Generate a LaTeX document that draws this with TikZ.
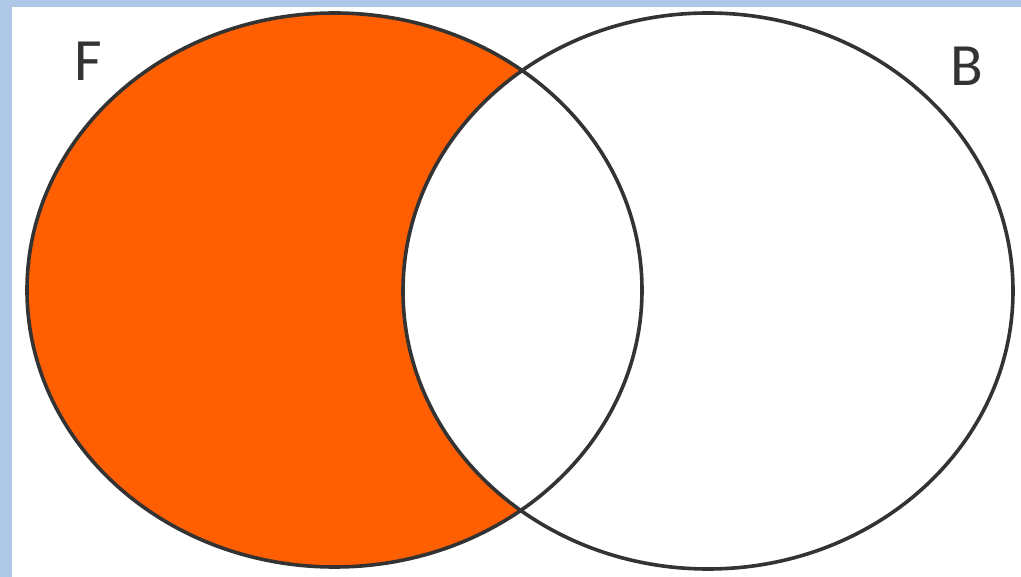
\documentclass[tikz,border=0pt]{standalone}
\usepackage{fontspec}
\setmainfont{Carlito}
\definecolor{frameblue}{HTML}{AFC7E6}
\definecolor{setorange}{HTML}{FF5F00}
\definecolor{setline}{HTML}{333333}
\tikzset{
  setoutline/.style={draw=setline, line width=3.6pt},
  setlabel/.style={font=\fontsize{60}{60}\selectfont, text=setline, inner sep=0pt}
}
\begin{document}
\begin{tikzpicture}[x=1pt,y=-1pt]
\useasboundingbox (0,0) rectangle (1021,577);
\fill[frameblue] (0,0) rectangle (1021,577);
\fill[white] (12,7) rectangle (1021,577);
\coordinate (cF) at (334.5,290);
\coordinate (cB) at (708,291);
\fill[setorange] (cF) ellipse [x radius=307.5, y radius=277];
\fill[white] (cB) ellipse [x radius=305, y radius=278];
\draw[setoutline] (cF) ellipse [x radius=307.5, y radius=277];
\draw[setoutline] (cB) ellipse [x radius=305, y radius=278];
\node[setlabel] (labF) at (88,61) {F};
\node[setlabel] (labB) at (967,66) {B};
\end{tikzpicture}
\end{document}
